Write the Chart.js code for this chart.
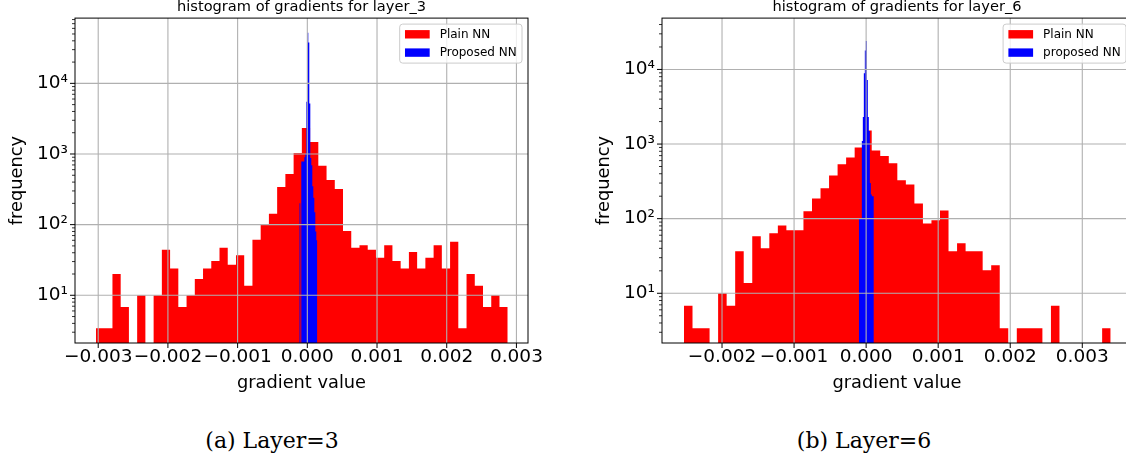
<!DOCTYPE html>
<html>
<head>
<meta charset="utf-8">
<script src="https://cdn.jsdelivr.net/npm/chart.js@4.4.0/dist/chart.umd.min.js"></script>
<style>
  body { margin: 0; background: #fff; width: 1126px; height: 460px; overflow: hidden; position: relative; }
  canvas { position: absolute; top: 0; }
  #c3 { left: 0; }
  #c6 { left: 560px; }
  .cap { position: absolute; top: 429px; width: 240px; text-align: center; font-family: "DejaVu Serif", serif; font-size: 22px; line-height: 24px; color: #000; }
</style>
</head>
<body>
<canvas id="c3" width="560" height="400"></canvas>
<canvas id="c6" width="580" height="400"></canvas>
<div class="cap" style="left:152px">(a) Layer=3</div>
<div class="cap" style="left:744px">(b) Layer=6</div>
<script>
// histogram data (50 bins for plain NN)
const plain3Range = [-0.003032, 0.002875];
const plain3Counts = [3.4, 3.4, 20, 6.8, 0, 10, 0, 10, 44, 24,
  6.8, 10, 17, 24, 30.5, 47, 27, 37, 13.6, 61,
  99, 142, 341, 521, 1030, 2330, 1480, 680, 428, 320,
  81, 47, 51, 44, 34, 51, 30.5, 24, 41, 24,
  34, 51, 24, 57, 3.4, 20, 13.6, 6.8, 10, 6.8];
const proposed3Range = [-0.000115, 0.0001435];
const proposed3Counts = [200, 0, 780, 780, 780, 900, 1000, 5500, 52000, 38000, 5200, 880, 690, 350, 240, 150, 80, 60];

const plain6Range = [-0.002528, 0.003394];
const plain6Counts = [6.8, 3.4, 3.4, 0, 10, 6.8, 36.5, 13.7, 58, 40,
  64, 81, 70, 70, 126, 187, 255, 380, 535, 660,
  900, 1520, 820, 690, 555, 326, 288, 160, 86, 95,
  129, 36.5, 47, 36.5, 36.5, 20.3, 23.7, 3.4, 0, 3.4,
  3.4, 3.4, 0, 6.8, 0, 0, 0, 0, 0, 3.4];
const proposed6Range = [-0.0001014, 0.000107];
const proposed6Counts = [100, 100, 100, 1100, 2300, 8900, 18000, 24000, 7200, 2300, 1500, 300, 210, 200, 200];

const xTicks3 = [-0.003, -0.002, -0.001, 0, 0.001, 0.002, 0.003];
const xLabels3 = ['−0.003', '−0.002', '−0.001', '0.000', '0.001', '0.002', '0.003'];
const xTicks6 = [-0.002, -0.001, 0, 0.001, 0.002, 0.003];
const xLabels6 = ['−0.002', '−0.001', '0.000', '0.001', '0.002', '0.003'];
const yTicks = [10, 100, 1000, 10000];
const yLabels = ['10¹', '10²', '10³', '10⁴'];

Chart.defaults.font.family = '"DejaVu Sans", sans-serif';
Chart.defaults.color = '#000';

// turn bin counts into step points (left edges + closing right edge)
function steps(range, counts) {
  const w = (range[1] - range[0]) / counts.length;
  const pts = counts.map((c, i) => ({ x: range[0] + i * w, y: c > 0 ? c : 0.001 }));
  pts.push({ x: range[1], y: pts[pts.length - 1].y });
  return pts;
}

// grid over the bars, box, tick marks, title and legend like matplotlib
const decor = {
  id: 'decor',
  afterDraw(chart, args, o) {
    const ctx = chart.ctx, a = chart.chartArea;
    const xs = chart.scales.x, ys = chart.scales.y;
    ctx.save();
    ctx.beginPath();
    ctx.rect(a.left, a.top, a.right - a.left, a.bottom - a.top);
    ctx.clip();
    ctx.strokeStyle = '#b0b0b0';
    ctx.lineWidth = 1.1;
    o.xTicks.forEach(v => {
      const p = xs.getPixelForValue(v);
      ctx.beginPath(); ctx.moveTo(p, a.top); ctx.lineTo(p, a.bottom); ctx.stroke();
    });
    yTicks.forEach(v => {
      const p = ys.getPixelForValue(v);
      ctx.beginPath(); ctx.moveTo(a.left, p); ctx.lineTo(a.right, p); ctx.stroke();
    });
    ctx.restore();

    ctx.save();
    ctx.strokeStyle = '#000';
    ctx.lineWidth = 1;
    ctx.strokeRect(a.left, a.top, a.right - a.left, a.bottom - a.top);
    o.xTicks.forEach(v => {
      const p = xs.getPixelForValue(v);
      ctx.beginPath(); ctx.moveTo(p, a.bottom); ctx.lineTo(p, a.bottom + 5); ctx.stroke();
    });
    yTicks.forEach(v => {
      const p = ys.getPixelForValue(v);
      ctx.beginPath(); ctx.moveTo(a.left, p); ctx.lineTo(a.left - 5, p); ctx.stroke();
    });
    ctx.lineWidth = 0.8;
    for (let d = 1; d <= 10000; d *= 10) {
      for (let m = 2; m <= 9; m++) {
        const v = m * d;
        if (v < ys.min || v > ys.max) continue;
        const p = ys.getPixelForValue(v);
        ctx.beginPath(); ctx.moveTo(a.left, p); ctx.lineTo(a.left - 3, p); ctx.stroke();
      }
    }

    ctx.fillStyle = '#000';
    ctx.font = '14.6px "DejaVu Sans"';
    ctx.textAlign = 'center';
    ctx.textBaseline = 'alphabetic';
    ctx.fillText(o.title, (a.left + a.right) / 2, 11);

    // legend
    ctx.font = '12px "DejaVu Sans"';
    const tw = Math.max(...o.names.map(n => ctx.measureText(n).width));
    const bw = 5.3 + 24.7 + 10 + tw + 5.3, bh = 39;
    const bx = a.right - 6 - bw, by = a.top + 6;
    ctx.beginPath();
    ctx.roundRect(bx, by, bw, bh, 3);
    ctx.fillStyle = 'rgba(255,255,255,0.8)';
    ctx.fill();
    ctx.strokeStyle = '#cccccc';
    ctx.lineWidth = 1;
    ctx.stroke();
    ctx.textAlign = 'left';
    ctx.textBaseline = 'middle';
    o.names.forEach((n, i) => {
      const ry = by + 6 + i * 18.3;
      ctx.fillStyle = o.colors[i];
      ctx.fillRect(bx + 5.3, ry, 24.7, 8.4);
      ctx.fillStyle = '#000';
      ctx.fillText(n, bx + 40, ry + 4.5);
    });
    ctx.restore();
  }
};

function makeChart(id, p) {
  return new Chart(document.getElementById(id), {
    type: 'line',
    data: {
      datasets: [{
        label: p.names[1],
        data: steps(p.propRange, p.propCounts),
        stepped: true,
        fill: 'start',
        backgroundColor: '#0000ff',
        borderColor: 'rgba(0,0,0,0)',
        borderWidth: 0,
        pointRadius: 0,
        order: 0
      }, {
        label: p.names[0],
        data: steps(p.plainRange, p.plainCounts),
        stepped: true,
        fill: 'start',
        backgroundColor: '#ff0000',
        borderColor: 'rgba(0,0,0,0)',
        borderWidth: 0,
        pointRadius: 0,
        order: 1
      }]
    },
    options: {
      responsive: false,
      animation: false,
      events: [],
      layout: { padding: { top: 18, right: p.padRight, left: 0, bottom: 0 } },
      scales: {
        x: {
          type: 'linear',
          min: p.xMin,
          max: p.xMax,
          afterBuildTicks: s => { s.ticks = p.xTicks.map(v => ({ value: v })); },
          afterFit: s => { s.height = 57; },
          ticks: {
            autoSkip: false, maxRotation: 0, minRotation: 0, padding: 3,
            font: { size: 18.5 },
            callback: (v, i) => p.xLabels[i]
          },
          grid: { display: false, tickLength: 0 },
          border: { display: false },
          title: { display: true, text: 'gradient value', font: { size: 17.8 }, padding: { top: 7, bottom: 6 } }
        },
        y: {
          type: 'logarithmic',
          min: p.yMin,
          max: p.yMax,
          afterBuildTicks: s => { s.ticks = yTicks.map(v => ({ value: v })); },
          afterFit: s => { s.width = p.yWidth; },
          ticks: {
            autoSkip: false, padding: 7,
            font: { size: 18.5 },
            callback: (v, i) => yLabels[i]
          },
          grid: { display: false, tickLength: 0 },
          border: { display: false },
          title: { display: true, text: 'frequency', font: { size: 17.8 }, padding: { top: p.yTitlePad, bottom: 0 } }
        }
      },
      plugins: {
        legend: { display: false },
        tooltip: { enabled: false },
        decor: {
          title: p.title,
          names: p.names,
          colors: ['#ff0000', '#0000ff'],
          xTicks: p.xTicks
        }
      }
    },
    plugins: [decor]
  });
}

makeChart('c3', {
  plainRange: plain3Range, plainCounts: plain3Counts,
  propRange: proposed3Range, propCounts: proposed3Counts,
  names: ['Plain NN', 'Proposed NN'],
  title: 'histogram of gradients for layer_3',
  xTicks: xTicks3, xLabels: xLabels3,
  xMin: -0.003333, xMax: 0.003166,
  yMin: 2.11, yMax: 83900,
  yWidth: 75, padRight: 32, yTitlePad: 7
});

makeChart('c6', {
  plainRange: plain6Range, plainCounts: plain6Counts,
  propRange: proposed6Range, propCounts: proposed6Counts,
  names: ['Plain NN', 'proposed NN'],
  title: 'histogram of gradients for layer_6',
  xTicks: xTicks6, xLabels: xLabels6,
  xMin: -0.002833, xMax: 0.00369,
  yMin: 2.156, yMax: 48760,
  yWidth: 102, padRight: 8, yTitlePad: 34
});
</script>
</body>
</html>
